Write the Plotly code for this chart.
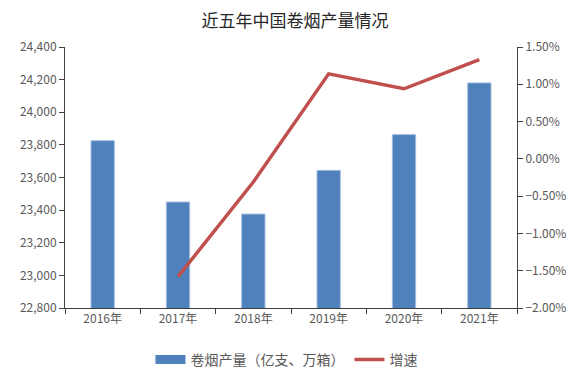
import plotly.graph_objects as go

years = ["2016年", "2017年", "2018年", "2019年", "2020年", "2021年"]
output = [23826, 23450, 23376, 23644, 23863, 24180]
growth_years = ["2017年", "2018年", "2019年", "2020年", "2021年"]
growth = [-1.58, -0.31, 1.14, 0.94, 1.33]

font_family = "Noto Sans CJK SC, Noto Sans, sans-serif"
tick_color = "#595959"
axis_color = "#404040"
bar_color = "#4F81BD"
line_color = "#C0504D"

fig = go.Figure()
fig.add_trace(go.Bar(
    x=years, y=output, name="卷烟产量（亿支、万箱）",
    marker=dict(color=bar_color, line=dict(color="#A7BFE0", width=1)),
    yaxis="y", showlegend=False,
))
# legend-only proxy to get a wide rectangular legend key
fig.add_trace(go.Scatter(
    x=[None], y=[None], name="卷烟产量（亿支、万箱）", mode="lines",
    line=dict(color=bar_color, width=9), yaxis="y",
))
fig.add_trace(go.Scatter(
    x=growth_years, y=growth, name="增速", mode="lines",
    line=dict(color=line_color, width=3.5),
    yaxis="y2",
))

fig.update_layout(
    width=574, height=369,
    margin=dict(l=55, r=65, t=39, b=69),
    paper_bgcolor="white", plot_bgcolor="white",
    font=dict(family=font_family, size=12, color=tick_color),
    title=dict(text="近五年中国卷烟产量情况", x=0.5, xanchor="center",
               yref="container", y=1 - 13.5 / 369, yanchor="middle",
               font=dict(size=17, color="#262626", family=font_family)),
    bargap=0.69,
    showlegend=True,
    legend=dict(orientation="h", x=0.49, xanchor="center",
                yref="container", y=1 - 352 / 369, yanchor="middle",
                font=dict(size=14, color=tick_color), traceorder="normal",
                itemwidth=30),
    xaxis=dict(type="category", showline=True, linecolor=axis_color, linewidth=1,
               ticks="outside", tickson="boundaries", ticklen=5, tickcolor=axis_color,
               showgrid=False, tickfont=dict(size=12, color=tick_color),
               mirror=False),
    yaxis=dict(range=[22800, 24400], dtick=200, tickformat=",", showgrid=False,
               showline=True, linecolor=axis_color, linewidth=1, ticks="outside",
               ticklen=5, tickcolor=axis_color, zeroline=False,
               tickfont=dict(size=12, color=tick_color)),
    yaxis2=dict(range=[-2.0, 1.5], dtick=0.5, tickformat=".2f", ticksuffix="%",
                overlaying="y", side="right", showgrid=False, showline=True,
                linecolor=axis_color, linewidth=1, ticks="outside", ticklen=5,
                tickcolor=axis_color, zeroline=False,
                tickfont=dict(size=12, color=tick_color)),
)

fig.write_html("out.html")
